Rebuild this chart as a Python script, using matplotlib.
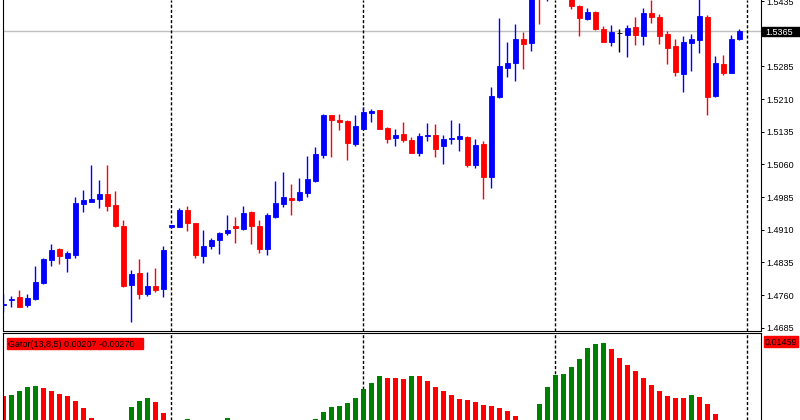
import matplotlib
matplotlib.use("Agg")
import matplotlib.pyplot as plt
from matplotlib.patches import Rectangle
import numpy as np

# hourly candles, oldest first
opens = [1.4736, 1.4749, 1.4756, 1.4738, 1.4751, 1.4788, 1.4840, 1.4866, 1.4845, 1.4852,
         1.4969, 1.4974, 1.4981, 1.4992, 1.4967, 1.4919, 1.4783, 1.4811, 1.4762, 1.4781,
         1.4774, 1.4916, 1.4916, 1.4955, 1.4925, 1.4850, 1.4873, 1.4886, 1.4902, 1.4919,
         1.4912, 1.4951, 1.4919, 1.4866, 1.4939, 1.4969, 1.4983, 1.4978, 1.4994, 1.5022,
         1.5082, 1.5173, 1.5162, 1.5160, 1.5107, 1.5141, 1.5178, 1.5185, 1.5144, 1.5121,
         1.5130, 1.5116, 1.5086, 1.5125, 1.5127, 1.5102, 1.5119, 1.5118, 1.5123, 1.5059,
         1.5107, 1.5031, 1.5215, 1.5281, 1.5293, 1.5348, 1.5339, 1.5452, 1.5447, 1.5468,
         1.5488, 1.5455, 1.5424, 1.5394, 1.5410, 1.5371, 1.5341, 1.5362, 1.5357, 1.5375,
         1.5355, 1.5408, 1.5398, 1.5359, 1.5332, 1.5267, 1.5339, 1.5346, 1.5398, 1.5217,
         1.5290, 1.5270, 1.5348]
highs = [1.4762, 1.4758, 1.4772, 1.4762, 1.4827, 1.4844, 1.4877, 1.4868, 1.4861, 1.4985,
         1.5001, 1.5059, 1.5024, 1.5059, 1.4999, 1.4932, 1.4818, 1.4843, 1.4813, 1.4822,
         1.4873, 1.4921, 1.4960, 1.4964, 1.4925, 1.4909, 1.4891, 1.4905, 1.4944, 1.4939,
         1.4964, 1.4953, 1.4932, 1.4948, 1.5022, 1.5042, 1.5015, 1.5029, 1.5079, 1.5100,
         1.5176, 1.5173, 1.5176, 1.5162, 1.5173, 1.5192, 1.5187, 1.5185, 1.5146, 1.5141,
         1.5157, 1.5123, 1.5132, 1.5155, 1.5153, 1.5127, 1.5162, 1.5155, 1.5125, 1.5118,
         1.5114, 1.5238, 1.5396, 1.5341, 1.5382, 1.5364, 1.5462, 1.5470, 1.5480, 1.5495,
         1.5502, 1.5462, 1.5426, 1.5419, 1.5412, 1.5378, 1.5380, 1.5371, 1.5380, 1.5398,
         1.5419, 1.5437, 1.5405, 1.5366, 1.5348, 1.5355, 1.5359, 1.5440, 1.5403, 1.5309,
         1.5311, 1.5357, 1.5371]
lows = [1.4720, 1.4733, 1.4733, 1.4733, 1.4749, 1.4785, 1.4827, 1.4831, 1.4813, 1.4845,
        1.4951, 1.4974, 1.4960, 1.4953, 1.4916, 1.4779, 1.4698, 1.4751, 1.4758, 1.4767,
        1.4756, 1.4915, 1.4916, 1.4907, 1.4845, 1.4834, 1.4866, 1.4854, 1.4898, 1.4880,
        1.4909, 1.4877, 1.4857, 1.4852, 1.4937, 1.4962, 1.4944, 1.4976, 1.4985, 1.5020,
        1.5075, 1.5077, 1.5139, 1.5070, 1.5102, 1.5141, 1.5157, 1.5141, 1.5109, 1.5102,
        1.5111, 1.5086, 1.5079, 1.5114, 1.5077, 1.5061, 1.5107, 1.5091, 1.5054, 1.5052,
        1.4981, 1.5006, 1.5212, 1.5261, 1.5251, 1.5279, 1.5320, 1.5382, 1.5435, 1.5452,
        1.5445, 1.5417, 1.5355, 1.5391, 1.5368, 1.5341, 1.5332, 1.5318, 1.5306, 1.5334,
        1.5334, 1.5385, 1.5336, 1.5290, 1.5263, 1.5226, 1.5274, 1.5316, 1.5173, 1.5215,
        1.5265, 1.5270, 1.5346]
closes = [1.4739, 1.4751, 1.4733, 1.4753, 1.4790, 1.4843, 1.4863, 1.4850, 1.4857, 1.4971,
          1.4978, 1.4981, 1.4992, 1.4964, 1.4919, 1.4781, 1.4808, 1.4762, 1.4781, 1.4772,
          1.4863, 1.4920, 1.4955, 1.4925, 1.4852, 1.4873, 1.4886, 1.4902, 1.4909, 1.4914,
          1.4948, 1.4919, 1.4866, 1.4944, 1.4971, 1.4985, 1.4978, 1.4997, 1.5026, 1.5084,
          1.5173, 1.5162, 1.5157, 1.5109, 1.5148, 1.5180, 1.5183, 1.5141, 1.5118, 1.5127,
          1.5116, 1.5086, 1.5125, 1.5127, 1.5095, 1.5118, 1.5121, 1.5125, 1.5059, 1.5105,
          1.5031, 1.5217, 1.5286, 1.5293, 1.5348, 1.5336, 1.5450, 1.5446, 1.5468, 1.5488,
          1.5455, 1.5424, 1.5396, 1.5410, 1.5371, 1.5341, 1.5364, 1.5362, 1.5373, 1.5357,
          1.5408, 1.5398, 1.5355, 1.5327, 1.5272, 1.5341, 1.5348, 1.5401, 1.5215, 1.5293,
          1.5270, 1.5348, 1.5365]

# gator upper histogram (jaw-teeth), one per candle
gator_before = 0.00770
gator_up = [0.00750, 0.00763, 0.00816, 0.00870, 0.00883, 0.00857, 0.00816, 0.00776, 0.00750, 0.00683,
            0.00589, 0.00455, 0.00360, 0.00270, 0.00190, 0.00150, 0.00602, 0.00683, 0.00723, 0.00669,
            0.00522, 0.00395, 0.00385, 0.00440, 0.00400, 0.00360, 0.00330, 0.00390, 0.00455, 0.00400,
            0.00350, 0.00300, 0.00250, 0.00200, 0.00160, 0.00130, 0.00170, 0.00250, 0.00350, 0.00442,
            0.00535, 0.00602, 0.00616, 0.00656, 0.00723, 0.00843, 0.00924, 0.01017, 0.00990, 0.00987,
            0.00983, 0.01017, 0.01013, 0.00950, 0.00870, 0.00816, 0.00763, 0.00709, 0.00696, 0.00669,
            0.00629, 0.00616, 0.00589, 0.00549, 0.00482, 0.00380, 0.00300, 0.00642, 0.00870, 0.01031,
            0.01044, 0.01138, 0.01245, 0.01392, 0.01446, 0.01459, 0.01379, 0.01258, 0.01164, 0.01084,
            0.00990, 0.00897, 0.00816, 0.00750, 0.00723, 0.00719, 0.00763, 0.00736, 0.00642, 0.00509,
            0.00400, 0.00300, 0.00207]
gator_down_last = -0.00270

day_starts = [21, 45, 69, 93]
price_ticks = [1.4685, 1.4760, 1.4835, 1.4910, 1.4985, 1.5060, 1.5135, 1.5210, 1.5285, 1.5435]

plt.rcParams['font.family'] = ['Liberation Sans', 'DejaVu Sans']
plt.rcParams['lines.scale_dashes'] = False

W, H = 800, 420
fig = plt.figure(figsize=(8, 4.2), dpi=100)
ax = fig.add_axes([2.7 / W, 1 - 330.5 / H, 758 / W, 330.5 / H])
ax2 = fig.add_axes([2.7 / W, 0, 758 / W, 87 / H])

x = np.arange(len(closes))
o = np.array(opens)
c = np.array(closes)
cols = np.where(c > o, '#0000FF', np.where(c < o, '#FF0000', '#000000'))

ax.axhline(closes[-1], color='#C0C0C0', lw=1.0, zorder=0)
for d in day_starts:
    ax.axvline(d, color='black', lw=1.0, ls=(0, (2.2, 1.5)), zorder=1)
    ax2.axvline(d, color='black', lw=1.0, ls=(0, (2.2, 1.5)), zorder=1)

ax.vlines(x, lows, highs, colors=cols, lw=1.0, zorder=2)
ax.bar(x, np.abs(c - o), width=0.56, bottom=np.minimum(o, c), color=cols,
       edgecolor=cols, linewidth=0.6, zorder=3)

ax.set_xlim(-0.079, 94.67)
ax.set_ylim(1.46786, 1.54373)
ax.set_xticks([])
ax.yaxis.tick_right()
ax.set_yticks(price_ticks)
ax.set_yticklabels([f'{t:.4f}' for t in price_ticks])
ax.tick_params(axis='y', direction='out', length=2.5, width=0.7, pad=1.5, labelsize=6.5)
ax.spines['top'].set_visible(False)
for s in ['left', 'right', 'bottom']:
    ax.spines[s].set_linewidth(0.8)

# gator colours: green when rising, red when falling
prev = np.concatenate([[gator_before], gator_up[:-1]])
gcols = np.where(np.array(gator_up) > prev, '#008000', '#FF0000')
ax2.bar(x, gator_up, width=0.62, color=gcols, zorder=2)
ax2.set_xlim(-0.079, 94.67)
ax2.set_ylim(0.004283, 0.015928)
ax2.set_xticks([])
ax2.set_yticks([])
ax2.spines['bottom'].set_visible(False)
for s in ['left', 'right', 'top']:
    ax2.spines[s].set_linewidth(0.8)

# current price label
yp = ax.transData.transform((0, closes[-1]))[1] / fig.bbox.height
fig.patches.append(Rectangle((762 / W, yp - 4.6 / H), 38 / W, 9.2 / H,
                             transform=fig.transFigure, color='black', zorder=5))
fig.text(765.5 / W, yp, f'{closes[-1]:.4f}', color='white', fontsize=6.5,
         va='center_baseline', ha='left', zorder=6)

# indicator labels
fig.patches.append(Rectangle((764 / W, 1 - 346.5 / H), 34 / W, 10.5 / H,
                             transform=fig.transFigure, color='#FF0000', zorder=5))
fig.text(765 / W, 1 - 341.5 / H, f'{max(gator_up):.5f}', color='black', fontsize=6.5,
         va='center_baseline', ha='left', zorder=6)
fig.patches.append(Rectangle((7 / W, 1 - 348.5 / H), 136 / W, 10.5 / H,
                             transform=fig.transFigure, color='#FF0000', zorder=5))
fig.text(8 / W, 1 - 343.5 / H,
         f'Gator(13,8,5) {gator_up[-1]:.5f} {gator_down_last:.5f}',
         color='black', fontsize=6.5, va='center_baseline', ha='left', zorder=6)

fig.savefig('out.png', dpi=100, facecolor='white')
